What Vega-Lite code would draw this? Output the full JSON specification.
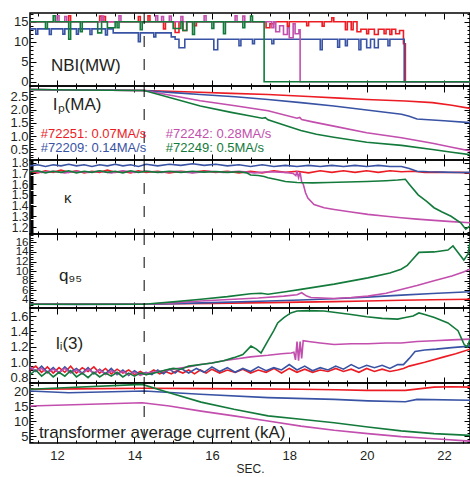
{
"$schema": "https://vega.github.io/schema/vega-lite/v6.json",
"padding": {"left": 1, "top": 11, "right": 1, "bottom": 0},
"spacing": 0,
"bounds": "flush",
"config": {
  "view": {"stroke": "#000", "strokeWidth": 1.5},
  "axis": {"domain": false, "grid": false, "tickColor": "#000", "tickWidth": 1, "labelFont": "Liberation Sans", "labelFontSize": 13, "labelColor": "#231f20", "titleFont": "Liberation Sans", "titleFontWeight": "normal", "titleFontSize": 13, "titleColor": "#231f20", "labelOverlap": false, "labelFlush": false, "title": null},
  "text": {"font": "Liberation Sans", "color": "#231f20"},
  "line": {"strokeWidth": 1.6}
},
"datasets": {
"nbi": [
{"s":"72251","t":11.3,"v":15},{"s":"72251","t":12.3,"v":16.5},{"s":"72251","t":12.35,"v":15},{"s":"72251","t":13.1,"v":16.4},{"s":"72251","t":13.15,"v":15},{"s":"72251","t":13.2,"v":16.3},{"s":"72251","t":13.25,"v":15},{"s":"72251","t":14.1,"v":16.3},{"s":"72251","t":14.15,"v":15},{"s":"72251","t":14.35,"v":16.5},{"s":"72251","t":14.4,"v":15},{"s":"72251","t":14.75,"v":13.2},{"s":"72251","t":14.8,"v":15},{"s":"72251","t":15.05,"v":12.3},{"s":"72251","t":15.15,"v":15},{"s":"72251","t":15.25,"v":12.8},{"s":"72251","t":15.35,"v":15},{"s":"72251","t":15.55,"v":14},{"s":"72251","t":15.6,"v":15},{"s":"72251","t":17.4,"v":13.5},{"s":"72251","t":17.5,"v":14.5},{"s":"72251","t":17.6,"v":15},{"s":"72251","t":17.95,"v":13.9},{"s":"72251","t":18.0,"v":15},{"s":"72251","t":18.45,"v":14},{"s":"72251","t":18.5,"v":15},{"s":"72251","t":18.85,"v":13.9},{"s":"72251","t":18.9,"v":15},{"s":"72251","t":19.1,"v":16},{"s":"72251","t":19.15,"v":15},{"s":"72251","t":19.45,"v":13},{"s":"72251","t":19.5,"v":15},{"s":"72251","t":19.6,"v":13},{"s":"72251","t":19.65,"v":15},{"s":"72251","t":19.75,"v":12.5},{"s":"72251","t":19.85,"v":13.1},{"s":"72251","t":20.0,"v":12},{"s":"72251","t":20.05,"v":13.1},{"s":"72251","t":20.2,"v":11.8},{"s":"72251","t":20.3,"v":13.1},{"s":"72251","t":20.45,"v":12},{"s":"72251","t":20.5,"v":13.1},{"s":"72251","t":20.6,"v":11.8},{"s":"72251","t":20.65,"v":13.1},{"s":"72251","t":20.75,"v":12},{"s":"72251","t":20.85,"v":12.8},{"s":"72251","t":20.95,"v":9.5},{"s":"72251","t":21.0,"v":0},{"s":"72251","t":22.67,"v":0},
{"s":"72209","t":11.3,"v":13.2},{"s":"72209","t":11.45,"v":11.9},{"s":"72209","t":11.5,"v":13.2},{"s":"72209","t":11.8,"v":11.8},{"s":"72209","t":11.85,"v":13.2},{"s":"72209","t":12.15,"v":11.9},{"s":"72209","t":12.2,"v":13.2},{"s":"72209","t":12.5,"v":11.9},{"s":"72209","t":12.55,"v":13.2},{"s":"72209","t":12.85,"v":11.8},{"s":"72209","t":12.9,"v":13.2},{"s":"72209","t":13.25,"v":11.7},{"s":"72209","t":13.3,"v":13.2},{"s":"72209","t":13.45,"v":12.2},{"s":"72209","t":14.1,"v":10},{"s":"72209","t":14.15,"v":12.2},{"s":"72209","t":14.5,"v":11.2},{"s":"72209","t":14.55,"v":12.2},{"s":"72209","t":14.95,"v":11.2},{"s":"72209","t":15.05,"v":10.6},{"s":"72209","t":15.15,"v":8.5},{"s":"72209","t":15.3,"v":10.6},{"s":"72209","t":16.05,"v":8},{"s":"72209","t":16.15,"v":10.6},{"s":"72209","t":16.7,"v":9},{"s":"72209","t":16.75,"v":10.6},{"s":"72209","t":17.05,"v":9.5},{"s":"72209","t":17.1,"v":10.6},{"s":"72209","t":17.55,"v":9.5},{"s":"72209","t":17.6,"v":10.6},{"s":"72209","t":18.8,"v":8},{"s":"72209","t":18.85,"v":10.6},{"s":"72209","t":19.25,"v":8.6},{"s":"72209","t":19.3,"v":10.6},{"s":"72209","t":19.45,"v":9},{"s":"72209","t":19.5,"v":10.6},{"s":"72209","t":19.8,"v":8},{"s":"72209","t":19.85,"v":10.6},{"s":"72209","t":20.0,"v":8.5},{"s":"72209","t":20.1,"v":10.6},{"s":"72209","t":20.2,"v":8.5},{"s":"72209","t":20.3,"v":10.6},{"s":"72209","t":20.55,"v":9},{"s":"72209","t":20.6,"v":10.6},{"s":"72209","t":20.97,"v":0},{"s":"72209","t":22.67,"v":0},
{"s":"72242","t":11.3,"v":15},{"s":"72242","t":12.0,"v":16.5},{"s":"72242","t":12.05,"v":15},{"s":"72242","t":12.2,"v":16.3},{"s":"72242","t":12.25,"v":15},{"s":"72242","t":13.15,"v":16.4},{"s":"72242","t":13.2,"v":15},{"s":"72242","t":13.6,"v":16.5},{"s":"72242","t":13.65,"v":15},{"s":"72242","t":14.55,"v":16.5},{"s":"72242","t":14.6,"v":15},{"s":"72242","t":14.7,"v":16.3},{"s":"72242","t":14.75,"v":15},{"s":"72242","t":14.9,"v":16.4},{"s":"72242","t":14.95,"v":15},{"s":"72242","t":15.2,"v":16.3},{"s":"72242","t":15.25,"v":15},{"s":"72242","t":15.8,"v":16.5},{"s":"72242","t":15.85,"v":15},{"s":"72242","t":16.6,"v":16.5},{"s":"72242","t":16.65,"v":15},{"s":"72242","t":16.8,"v":16.4},{"s":"72242","t":16.85,"v":15},{"s":"72242","t":17.55,"v":13.5},{"s":"72242","t":17.6,"v":15},{"s":"72242","t":17.65,"v":12.5},{"s":"72242","t":17.75,"v":14},{"s":"72242","t":17.85,"v":11.8},{"s":"72242","t":17.95,"v":13.5},{"s":"72242","t":18.0,"v":11},{"s":"72242","t":18.1,"v":14.5},{"s":"72242","t":18.15,"v":12},{"s":"72242","t":18.25,"v":13},{"s":"72242","t":18.28,"v":0},{"s":"72242","t":22.67,"v":0},
{"s":"72249","t":11.3,"v":15},{"s":"72249","t":11.7,"v":13.3},{"s":"72249","t":11.75,"v":15},{"s":"72249","t":11.9,"v":16.5},{"s":"72249","t":11.95,"v":15},{"s":"72249","t":12.3,"v":10.6},{"s":"72249","t":12.35,"v":15},{"s":"72249","t":12.6,"v":12.5},{"s":"72249","t":12.65,"v":15},{"s":"72249","t":13.05,"v":12.2},{"s":"72249","t":13.15,"v":15},{"s":"72249","t":13.3,"v":13.5},{"s":"72249","t":13.5,"v":15},{"s":"72249","t":13.55,"v":13.5},{"s":"72249","t":13.6,"v":15},{"s":"72249","t":14.15,"v":13},{"s":"72249","t":14.2,"v":15},{"s":"72249","t":15.0,"v":13.3},{"s":"72249","t":15.2,"v":15},{"s":"72249","t":15.25,"v":12.8},{"s":"72249","t":15.35,"v":15},{"s":"72249","t":15.5,"v":11.8},{"s":"72249","t":15.55,"v":15},{"s":"72249","t":16.0,"v":13.3},{"s":"72249","t":16.05,"v":15},{"s":"72249","t":16.3,"v":12},{"s":"72249","t":16.35,"v":15},{"s":"72249","t":16.8,"v":13.5},{"s":"72249","t":16.85,"v":15},{"s":"72249","t":17.0,"v":16.4},{"s":"72249","t":17.05,"v":15},{"s":"72249","t":17.35,"v":0},{"s":"72249","t":22.67,"v":0}
],
"ip": [
{"s":"72251","t":11.3,"v":2.77},{"s":"72251","t":12.5,"v":2.75},{"s":"72251","t":14.25,"v":2.73},{"s":"72251","t":15.5,"v":2.67},{"s":"72251","t":16.5,"v":2.62},{"s":"72251","t":17.45,"v":2.58},{"s":"72251","t":18.5,"v":2.5},{"s":"72251","t":19.3,"v":2.44},{"s":"72251","t":20.0,"v":2.39},{"s":"72251","t":21.0,"v":2.33},{"s":"72251","t":21.7,"v":2.27},{"s":"72251","t":22.2,"v":2.17},{"s":"72251","t":22.67,"v":2.05},
{"s":"72209","t":11.3,"v":2.77},{"s":"72209","t":12.5,"v":2.75},{"s":"72209","t":14.25,"v":2.73},{"s":"72209","t":15.0,"v":2.65},{"s":"72209","t":15.7,"v":2.58},{"s":"72209","t":16.6,"v":2.49},{"s":"72209","t":17.45,"v":2.39},{"s":"72209","t":18.3,"v":2.27},{"s":"72209","t":19.15,"v":2.14},{"s":"72209","t":20.0,"v":1.99},{"s":"72209","t":20.9,"v":1.83},{"s":"72209","t":21.1,"v":1.75},{"s":"72209","t":21.3,"v":1.65},{"s":"72209","t":22.0,"v":1.58},{"s":"72209","t":22.67,"v":1.51},
{"s":"72242","t":11.3,"v":2.77},{"s":"72242","t":12.5,"v":2.75},{"s":"72242","t":14.25,"v":2.73},{"s":"72242","t":15.0,"v":2.53},{"s":"72242","t":15.7,"v":2.34},{"s":"72242","t":16.6,"v":2.15},{"s":"72242","t":17.45,"v":1.96},{"s":"72242","t":18.2,"v":1.68},{"s":"72242","t":18.27,"v":1.71},{"s":"72242","t":18.32,"v":1.63},{"s":"72242","t":18.6,"v":1.54},{"s":"72242","t":19.15,"v":1.38},{"s":"72242","t":20.0,"v":1.13},{"s":"72242","t":20.9,"v":0.94},{"s":"72242","t":21.7,"v":0.73},{"s":"72242","t":22.2,"v":0.58},{"s":"72242","t":22.67,"v":0.44},
{"s":"72249","t":11.3,"v":2.77},{"s":"72249","t":12.5,"v":2.75},{"s":"72249","t":14.25,"v":2.73},{"s":"72249","t":15.0,"v":2.43},{"s":"72249","t":15.7,"v":2.14},{"s":"72249","t":16.5,"v":1.9},{"s":"72249","t":17.0,"v":1.76},{"s":"72249","t":17.3,"v":1.68},{"s":"72249","t":17.38,"v":1.7},{"s":"72249","t":17.45,"v":1.62},{"s":"72249","t":17.9,"v":1.4},{"s":"72249","t":18.3,"v":1.21},{"s":"72249","t":18.7,"v":1.07},{"s":"72249","t":19.15,"v":0.96},{"s":"72249","t":20.0,"v":0.77},{"s":"72249","t":20.9,"v":0.65},{"s":"72249","t":21.7,"v":0.49},{"s":"72249","t":22.2,"v":0.39},{"s":"72249","t":22.67,"v":0.3}
],
"kappa": [
{"s":"72251","t":11.3,"v":1.72},{"s":"72251","t":11.5,"v":1.705},{"s":"72251","t":11.7,"v":1.725},{"s":"72251","t":11.9,"v":1.71},{"s":"72251","t":12.1,"v":1.73},{"s":"72251","t":12.3,"v":1.71},{"s":"72251","t":12.5,"v":1.725},{"s":"72251","t":12.7,"v":1.705},{"s":"72251","t":12.9,"v":1.72},{"s":"72251","t":13.1,"v":1.71},{"s":"72251","t":13.3,"v":1.73},{"s":"72251","t":13.5,"v":1.71},{"s":"72251","t":13.7,"v":1.72},{"s":"72251","t":13.9,"v":1.705},{"s":"72251","t":14.1,"v":1.725},{"s":"72251","t":14.3,"v":1.71},{"s":"72251","t":14.6,"v":1.72},{"s":"72251","t":14.9,"v":1.705},{"s":"72251","t":15.2,"v":1.72},{"s":"72251","t":15.5,"v":1.71},{"s":"72251","t":15.8,"v":1.725},{"s":"72251","t":16.1,"v":1.71},{"s":"72251","t":16.4,"v":1.72},{"s":"72251","t":16.7,"v":1.705},{"s":"72251","t":17.0,"v":1.72},{"s":"72251","t":17.3,"v":1.705},{"s":"72251","t":17.6,"v":1.725},{"s":"72251","t":17.9,"v":1.71},{"s":"72251","t":18.2,"v":1.72},{"s":"72251","t":18.5,"v":1.705},{"s":"72251","t":18.8,"v":1.725},{"s":"72251","t":19.1,"v":1.71},{"s":"72251","t":19.4,"v":1.725},{"s":"72251","t":19.7,"v":1.71},{"s":"72251","t":20.0,"v":1.725},{"s":"72251","t":20.3,"v":1.71},{"s":"72251","t":20.6,"v":1.725},{"s":"72251","t":20.9,"v":1.715},{"s":"72251","t":21.2,"v":1.72},{"s":"72251","t":21.5,"v":1.71},{"s":"72251","t":21.8,"v":1.712},{"s":"72251","t":22.1,"v":1.708},{"s":"72251","t":22.4,"v":1.71},{"s":"72251","t":22.67,"v":1.705},
{"s":"72209","t":11.3,"v":1.77},{"s":"72209","t":11.5,"v":1.78},{"s":"72209","t":11.7,"v":1.765},{"s":"72209","t":11.9,"v":1.78},{"s":"72209","t":12.1,"v":1.77},{"s":"72209","t":12.3,"v":1.785},{"s":"72209","t":12.5,"v":1.77},{"s":"72209","t":12.7,"v":1.78},{"s":"72209","t":12.9,"v":1.765},{"s":"72209","t":13.1,"v":1.78},{"s":"72209","t":13.3,"v":1.77},{"s":"72209","t":13.5,"v":1.785},{"s":"72209","t":13.7,"v":1.77},{"s":"72209","t":13.9,"v":1.78},{"s":"72209","t":14.1,"v":1.765},{"s":"72209","t":14.3,"v":1.785},{"s":"72209","t":14.6,"v":1.77},{"s":"72209","t":14.9,"v":1.785},{"s":"72209","t":15.2,"v":1.775},{"s":"72209","t":15.5,"v":1.79},{"s":"72209","t":15.8,"v":1.775},{"s":"72209","t":16.1,"v":1.785},{"s":"72209","t":16.4,"v":1.77},{"s":"72209","t":16.7,"v":1.78},{"s":"72209","t":17.0,"v":1.765},{"s":"72209","t":17.3,"v":1.78},{"s":"72209","t":17.6,"v":1.765},{"s":"72209","t":17.9,"v":1.775},{"s":"72209","t":18.2,"v":1.765},{"s":"72209","t":18.5,"v":1.775},{"s":"72209","t":18.8,"v":1.765},{"s":"72209","t":19.1,"v":1.775},{"s":"72209","t":19.4,"v":1.765},{"s":"72209","t":19.7,"v":1.775},{"s":"72209","t":20.0,"v":1.765},{"s":"72209","t":20.3,"v":1.775},{"s":"72209","t":20.6,"v":1.765},{"s":"72209","t":20.9,"v":1.765},{"s":"72209","t":21.1,"v":1.745},{"s":"72209","t":21.3,"v":1.72},{"s":"72209","t":21.6,"v":1.715},{"s":"72209","t":22.0,"v":1.712},{"s":"72209","t":22.4,"v":1.708},{"s":"72209","t":22.67,"v":1.71},
{"s":"72242","t":11.3,"v":1.725},{"s":"72242","t":11.6,"v":1.71},{"s":"72242","t":11.9,"v":1.72},{"s":"72242","t":12.2,"v":1.705},{"s":"72242","t":12.5,"v":1.72},{"s":"72242","t":12.8,"v":1.71},{"s":"72242","t":13.1,"v":1.72},{"s":"72242","t":13.4,"v":1.705},{"s":"72242","t":13.7,"v":1.725},{"s":"72242","t":14.0,"v":1.71},{"s":"72242","t":14.3,"v":1.72},{"s":"72242","t":14.7,"v":1.71},{"s":"72242","t":15.1,"v":1.72},{"s":"72242","t":15.5,"v":1.705},{"s":"72242","t":15.9,"v":1.72},{"s":"72242","t":16.3,"v":1.71},{"s":"72242","t":16.7,"v":1.72},{"s":"72242","t":17.1,"v":1.705},{"s":"72242","t":17.5,"v":1.715},{"s":"72242","t":17.9,"v":1.71},{"s":"72242","t":18.1,"v":1.7},{"s":"72242","t":18.17,"v":1.68},{"s":"72242","t":18.2,"v":1.72},{"s":"72242","t":18.24,"v":1.66},{"s":"72242","t":18.28,"v":1.71},{"s":"72242","t":18.32,"v":1.62},{"s":"72242","t":18.36,"v":1.6},{"s":"72242","t":18.42,"v":1.52},{"s":"72242","t":18.48,"v":1.47},{"s":"72242","t":18.64,"v":1.41},{"s":"72242","t":18.9,"v":1.38},{"s":"72242","t":19.16,"v":1.364},{"s":"72242","t":19.6,"v":1.34},{"s":"72242","t":20.03,"v":1.318},{"s":"72242","t":20.5,"v":1.3},{"s":"72242","t":20.89,"v":1.286},{"s":"72242","t":21.3,"v":1.274},{"s":"72242","t":21.74,"v":1.262},{"s":"72242","t":22.2,"v":1.25},{"s":"72242","t":22.67,"v":1.24},
{"s":"72249","t":11.3,"v":1.715},{"s":"72249","t":11.5,"v":1.725},{"s":"72249","t":11.7,"v":1.705},{"s":"72249","t":11.9,"v":1.72},{"s":"72249","t":12.1,"v":1.71},{"s":"72249","t":12.3,"v":1.725},{"s":"72249","t":12.5,"v":1.705},{"s":"72249","t":12.7,"v":1.72},{"s":"72249","t":12.9,"v":1.71},{"s":"72249","t":13.1,"v":1.725},{"s":"72249","t":13.3,"v":1.71},{"s":"72249","t":13.5,"v":1.72},{"s":"72249","t":13.7,"v":1.705},{"s":"72249","t":13.9,"v":1.725},{"s":"72249","t":14.1,"v":1.71},{"s":"72249","t":14.3,"v":1.72},{"s":"72249","t":14.6,"v":1.71},{"s":"72249","t":14.9,"v":1.72},{"s":"72249","t":15.2,"v":1.71},{"s":"72249","t":15.5,"v":1.72},{"s":"72249","t":15.8,"v":1.712},{"s":"72249","t":16.1,"v":1.718},{"s":"72249","t":16.4,"v":1.71},{"s":"72249","t":16.7,"v":1.715},{"s":"72249","t":16.9,"v":1.705},{"s":"72249","t":17.0,"v":1.685},{"s":"72249","t":17.2,"v":1.68},{"s":"72249","t":17.35,"v":1.672},{"s":"72249","t":17.45,"v":1.66},{"s":"72249","t":17.7,"v":1.64},{"s":"72249","t":17.9,"v":1.625},{"s":"72249","t":18.2,"v":1.615},{"s":"72249","t":18.6,"v":1.612},{"s":"72249","t":19.0,"v":1.615},{"s":"72249","t":19.5,"v":1.62},{"s":"72249","t":20.0,"v":1.625},{"s":"72249","t":20.5,"v":1.632},{"s":"72249","t":20.8,"v":1.638},{"s":"72249","t":21.0,"v":1.645},{"s":"72249","t":21.1,"v":1.6},{"s":"72249","t":21.33,"v":1.5},{"s":"72249","t":21.55,"v":1.44},{"s":"72249","t":21.74,"v":1.38},{"s":"72249","t":21.95,"v":1.34},{"s":"72249","t":22.18,"v":1.3},{"s":"72249","t":22.43,"v":1.24},{"s":"72249","t":22.56,"v":1.18},{"s":"72249","t":22.67,"v":1.21}
],
"q95": [
{"s":"72251","t":11.3,"v":3.15},{"s":"72251","t":12.5,"v":3.12},{"s":"72251","t":14.25,"v":3.1},{"s":"72251","t":15.0,"v":3.2},{"s":"72251","t":16.0,"v":3.3},{"s":"72251","t":17.45,"v":3.45},{"s":"72251","t":18.3,"v":3.55},{"s":"72251","t":19.15,"v":3.65},{"s":"72251","t":20.0,"v":3.8},{"s":"72251","t":20.9,"v":3.95},{"s":"72251","t":21.7,"v":4.05},{"s":"72251","t":22.67,"v":4.15},
{"s":"72209","t":11.3,"v":3.1},{"s":"72209","t":12.5,"v":3.08},{"s":"72209","t":14.25,"v":3.1},{"s":"72209","t":15.0,"v":3.25},{"s":"72209","t":16.0,"v":3.45},{"s":"72209","t":17.45,"v":3.8},{"s":"72209","t":18.3,"v":4.0},{"s":"72209","t":19.15,"v":4.27},{"s":"72209","t":20.0,"v":4.6},{"s":"72209","t":20.9,"v":5.0},{"s":"72209","t":21.7,"v":5.35},{"s":"72209","t":22.67,"v":5.7},
{"s":"72242","t":11.3,"v":3.12},{"s":"72242","t":14.25,"v":3.1},{"s":"72242","t":15.0,"v":3.4},{"s":"72242","t":15.7,"v":3.8},{"s":"72242","t":16.57,"v":4.15},{"s":"72242","t":17.2,"v":4.4},{"s":"72242","t":17.86,"v":4.8},{"s":"72242","t":18.2,"v":5.1},{"s":"72242","t":18.32,"v":5.5},{"s":"72242","t":18.45,"v":4.8},{"s":"72242","t":18.56,"v":4.5},{"s":"72242","t":19.16,"v":4.3},{"s":"72242","t":19.6,"v":4.5},{"s":"72242","t":20.03,"v":4.8},{"s":"72242","t":20.5,"v":5.4},{"s":"72242","t":20.89,"v":6.2},{"s":"72242","t":21.3,"v":7.0},{"s":"72242","t":21.74,"v":8.0},{"s":"72242","t":22.2,"v":9.0},{"s":"72242","t":22.5,"v":9.8},{"s":"72242","t":22.67,"v":10.4},
{"s":"72249","t":11.3,"v":3.12},{"s":"72249","t":14.25,"v":3.1},{"s":"72249","t":15.0,"v":3.6},{"s":"72249","t":15.72,"v":4.15},{"s":"72249","t":16.4,"v":4.7},{"s":"72249","t":17.0,"v":5.3},{"s":"72249","t":17.27,"v":5.4},{"s":"72249","t":17.45,"v":5.2},{"s":"72249","t":17.9,"v":5.7},{"s":"72249","t":18.3,"v":6.2},{"s":"72249","t":19.16,"v":7.3},{"s":"72249","t":20.03,"v":8.6},{"s":"72249","t":20.6,"v":9.6},{"s":"72249","t":20.89,"v":10.4},{"s":"72249","t":21.05,"v":11.2},{"s":"72249","t":21.15,"v":12.1},{"s":"72249","t":21.35,"v":13.9},{"s":"72249","t":21.74,"v":14.0},{"s":"72249","t":22.1,"v":14.4},{"s":"72249","t":22.23,"v":15.25},{"s":"72249","t":22.36,"v":13.9},{"s":"72249","t":22.51,"v":12.3},{"s":"72249","t":22.62,"v":13.6},{"s":"72249","t":22.67,"v":16.0}
],
"li": [
{"s":"72251","t":11.3,"v":0.9},{"s":"72251","t":11.45,"v":0.95},{"s":"72251","t":11.6,"v":0.87},{"s":"72251","t":11.75,"v":0.94},{"s":"72251","t":11.9,"v":0.86},{"s":"72251","t":12.05,"v":0.93},{"s":"72251","t":12.2,"v":0.87},{"s":"72251","t":12.35,"v":0.95},{"s":"72251","t":12.5,"v":0.86},{"s":"72251","t":12.65,"v":0.93},{"s":"72251","t":12.8,"v":0.88},{"s":"72251","t":12.95,"v":0.94},{"s":"72251","t":13.1,"v":0.86},{"s":"72251","t":13.25,"v":0.92},{"s":"72251","t":13.4,"v":0.85},{"s":"72251","t":13.55,"v":0.91},{"s":"72251","t":13.7,"v":0.86},{"s":"72251","t":13.85,"v":0.9},{"s":"72251","t":14.0,"v":0.84},{"s":"72251","t":14.15,"v":0.88},{"s":"72251","t":14.3,"v":0.84},{"s":"72251","t":14.5,"v":0.9},{"s":"72251","t":14.65,"v":0.85},{"s":"72251","t":14.8,"v":0.88},{"s":"72251","t":14.95,"v":0.85},{"s":"72251","t":15.1,"v":0.89},{"s":"72251","t":15.25,"v":0.86},{"s":"72251","t":15.4,"v":0.9},{"s":"72251","t":15.55,"v":0.85},{"s":"72251","t":15.7,"v":0.9},{"s":"72251","t":15.85,"v":0.86},{"s":"72251","t":16.0,"v":0.91},{"s":"72251","t":16.2,"v":0.86},{"s":"72251","t":16.4,"v":0.9},{"s":"72251","t":16.6,"v":0.87},{"s":"72251","t":16.8,"v":0.91},{"s":"72251","t":17.0,"v":0.86},{"s":"72251","t":17.2,"v":0.9},{"s":"72251","t":17.4,"v":0.87},{"s":"72251","t":17.6,"v":0.92},{"s":"72251","t":17.8,"v":0.86},{"s":"72251","t":18.0,"v":0.92},{"s":"72251","t":18.2,"v":0.87},{"s":"72251","t":18.4,"v":0.91},{"s":"72251","t":18.6,"v":0.87},{"s":"72251","t":18.8,"v":0.9},{"s":"72251","t":19.0,"v":0.88},{"s":"72251","t":19.2,"v":0.92},{"s":"72251","t":19.4,"v":0.88},{"s":"72251","t":19.6,"v":0.91},{"s":"72251","t":19.8,"v":0.87},{"s":"72251","t":20.0,"v":0.92},{"s":"72251","t":20.2,"v":0.88},{"s":"72251","t":20.4,"v":0.91},{"s":"72251","t":20.6,"v":0.88},{"s":"72251","t":20.8,"v":0.9},{"s":"72251","t":20.95,"v":0.92},{"s":"72251","t":21.1,"v":0.95},{"s":"72251","t":21.5,"v":1.0},{"s":"72251","t":22.0,"v":1.07},{"s":"72251","t":22.3,"v":1.11},{"s":"72251","t":22.67,"v":1.17},
{"s":"72209","t":11.3,"v":0.93},{"s":"72209","t":11.45,"v":0.88},{"s":"72209","t":11.6,"v":0.95},{"s":"72209","t":11.75,"v":0.87},{"s":"72209","t":11.9,"v":0.93},{"s":"72209","t":12.05,"v":0.86},{"s":"72209","t":12.2,"v":0.94},{"s":"72209","t":12.35,"v":0.87},{"s":"72209","t":12.5,"v":0.92},{"s":"72209","t":12.65,"v":0.86},{"s":"72209","t":12.8,"v":0.93},{"s":"72209","t":12.95,"v":0.85},{"s":"72209","t":13.1,"v":0.91},{"s":"72209","t":13.25,"v":0.85},{"s":"72209","t":13.4,"v":0.92},{"s":"72209","t":13.55,"v":0.84},{"s":"72209","t":13.7,"v":0.9},{"s":"72209","t":13.85,"v":0.83},{"s":"72209","t":14.0,"v":0.89},{"s":"72209","t":14.15,"v":0.84},{"s":"72209","t":14.3,"v":0.87},{"s":"72209","t":14.45,"v":0.84},{"s":"72209","t":14.6,"v":0.9},{"s":"72209","t":14.75,"v":0.85},{"s":"72209","t":14.9,"v":0.91},{"s":"72209","t":15.05,"v":0.86},{"s":"72209","t":15.2,"v":0.92},{"s":"72209","t":15.4,"v":0.86},{"s":"72209","t":15.6,"v":0.92},{"s":"72209","t":15.8,"v":0.87},{"s":"72209","t":16.0,"v":0.94},{"s":"72209","t":16.2,"v":0.88},{"s":"72209","t":16.4,"v":0.93},{"s":"72209","t":16.6,"v":0.87},{"s":"72209","t":16.8,"v":0.92},{"s":"72209","t":17.0,"v":0.88},{"s":"72209","t":17.2,"v":0.94},{"s":"72209","t":17.4,"v":0.89},{"s":"72209","t":17.6,"v":0.93},{"s":"72209","t":17.8,"v":0.9},{"s":"72209","t":18.0,"v":0.97},{"s":"72209","t":18.2,"v":0.9},{"s":"72209","t":18.4,"v":0.95},{"s":"72209","t":18.6,"v":0.89},{"s":"72209","t":18.8,"v":0.93},{"s":"72209","t":19.0,"v":0.9},{"s":"72209","t":19.2,"v":0.95},{"s":"72209","t":19.4,"v":0.91},{"s":"72209","t":19.6,"v":0.97},{"s":"72209","t":19.8,"v":0.92},{"s":"72209","t":20.0,"v":0.96},{"s":"72209","t":20.2,"v":0.93},{"s":"72209","t":20.4,"v":0.96},{"s":"72209","t":20.6,"v":0.92},{"s":"72209","t":20.8,"v":0.97},{"s":"72209","t":20.95,"v":0.97},{"s":"72209","t":21.1,"v":1.05},{"s":"72209","t":21.25,"v":1.14},{"s":"72209","t":21.5,"v":1.16},{"s":"72209","t":21.8,"v":1.17},{"s":"72209","t":22.2,"v":1.19},{"s":"72209","t":22.67,"v":1.21},
{"s":"72242","t":11.3,"v":0.94},{"s":"72242","t":11.45,"v":0.89},{"s":"72242","t":11.6,"v":0.92},{"s":"72242","t":11.75,"v":0.86},{"s":"72242","t":11.9,"v":0.91},{"s":"72242","t":12.05,"v":0.87},{"s":"72242","t":12.2,"v":0.92},{"s":"72242","t":12.35,"v":0.86},{"s":"72242","t":12.5,"v":0.9},{"s":"72242","t":12.65,"v":0.85},{"s":"72242","t":12.8,"v":0.91},{"s":"72242","t":12.95,"v":0.86},{"s":"72242","t":13.1,"v":0.9},{"s":"72242","t":13.25,"v":0.84},{"s":"72242","t":13.4,"v":0.89},{"s":"72242","t":13.55,"v":0.85},{"s":"72242","t":13.7,"v":0.88},{"s":"72242","t":13.85,"v":0.84},{"s":"72242","t":14.0,"v":0.87},{"s":"72242","t":14.15,"v":0.83},{"s":"72242","t":14.3,"v":0.86},{"s":"72242","t":14.6,"v":0.88},{"s":"72242","t":14.9,"v":0.9},{"s":"72242","t":15.1,"v":0.92},{"s":"72242","t":15.4,"v":0.94},{"s":"72242","t":15.7,"v":0.97},{"s":"72242","t":16.0,"v":0.99},{"s":"72242","t":16.3,"v":1.02},{"s":"72242","t":16.57,"v":1.04},{"s":"72242","t":17.0,"v":1.07},{"s":"72242","t":17.45,"v":1.09},{"s":"72242","t":17.8,"v":1.11},{"s":"72242","t":18.05,"v":1.12},{"s":"72242","t":18.12,"v":1.13},{"s":"72242","t":18.16,"v":1.03},{"s":"72242","t":18.2,"v":1.27},{"s":"72242","t":18.24,"v":1.02},{"s":"72242","t":18.28,"v":1.27},{"s":"72242","t":18.32,"v":1.05},{"s":"72242","t":18.36,"v":1.28},{"s":"72242","t":18.5,"v":1.27},{"s":"72242","t":18.8,"v":1.25},{"s":"72242","t":19.16,"v":1.23},{"s":"72242","t":19.6,"v":1.24},{"s":"72242","t":20.03,"v":1.24},{"s":"72242","t":20.5,"v":1.25},{"s":"72242","t":20.89,"v":1.25},{"s":"72242","t":21.3,"v":1.27},{"s":"72242","t":21.74,"v":1.28},{"s":"72242","t":22.2,"v":1.29},{"s":"72242","t":22.67,"v":1.3},
{"s":"72249","t":11.3,"v":0.84},{"s":"72249","t":11.45,"v":0.9},{"s":"72249","t":11.6,"v":0.82},{"s":"72249","t":11.75,"v":0.88},{"s":"72249","t":11.9,"v":0.81},{"s":"72249","t":12.05,"v":0.87},{"s":"72249","t":12.2,"v":0.82},{"s":"72249","t":12.35,"v":0.89},{"s":"72249","t":12.5,"v":0.81},{"s":"72249","t":12.65,"v":0.86},{"s":"72249","t":12.8,"v":0.8},{"s":"72249","t":12.95,"v":0.87},{"s":"72249","t":13.1,"v":0.81},{"s":"72249","t":13.25,"v":0.86},{"s":"72249","t":13.4,"v":0.82},{"s":"72249","t":13.55,"v":0.87},{"s":"72249","t":13.7,"v":0.81},{"s":"72249","t":13.85,"v":0.86},{"s":"72249","t":14.0,"v":0.82},{"s":"72249","t":14.15,"v":0.86},{"s":"72249","t":14.3,"v":0.84},{"s":"72249","t":14.6,"v":0.87},{"s":"72249","t":14.8,"v":0.9},{"s":"72249","t":15.0,"v":0.92},{"s":"72249","t":15.2,"v":0.91},{"s":"72249","t":15.4,"v":0.95},{"s":"72249","t":15.72,"v":0.97},{"s":"72249","t":16.0,"v":0.99},{"s":"72249","t":16.3,"v":1.02},{"s":"72249","t":16.57,"v":1.06},{"s":"72249","t":16.8,"v":1.1},{"s":"72249","t":17.01,"v":1.21},{"s":"72249","t":17.15,"v":1.17},{"s":"72249","t":17.27,"v":1.12},{"s":"72249","t":17.45,"v":1.28},{"s":"72249","t":17.6,"v":1.41},{"s":"72249","t":17.7,"v":1.51},{"s":"72249","t":17.86,"v":1.58},{"s":"72249","t":18.04,"v":1.64},{"s":"72249","t":18.2,"v":1.665},{"s":"72249","t":18.5,"v":1.67},{"s":"72249","t":18.9,"v":1.665},{"s":"72249","t":19.3,"v":1.64},{"s":"72249","t":19.6,"v":1.62},{"s":"72249","t":20.0,"v":1.59},{"s":"72249","t":20.4,"v":1.57},{"s":"72249","t":20.8,"v":1.56},{"s":"72249","t":21.0,"v":1.58},{"s":"72249","t":21.2,"v":1.6},{"s":"72249","t":21.35,"v":1.64},{"s":"72249","t":21.5,"v":1.62},{"s":"72249","t":21.75,"v":1.58},{"s":"72249","t":22.1,"v":1.51},{"s":"72249","t":22.36,"v":1.41},{"s":"72249","t":22.52,"v":1.23},{"s":"72249","t":22.6,"v":1.2},{"s":"72249","t":22.67,"v":1.3}
],
"itf": [
{"s":"72251","t":11.3,"v":20.6},{"s":"72251","t":12.5,"v":20.7},{"s":"72251","t":14.25,"v":20.9},{"s":"72251","t":15.7,"v":20.8},{"s":"72251","t":17.0,"v":20.7},{"s":"72251","t":18.3,"v":20.6},{"s":"72251","t":19.2,"v":20.4},{"s":"72251","t":20.0,"v":20.2},{"s":"72251","t":21.0,"v":20.2},{"s":"72251","t":21.74,"v":21.3},{"s":"72251","t":22.2,"v":21.4},{"s":"72251","t":22.67,"v":21.3},
{"s":"72209","t":11.3,"v":20.0},{"s":"72209","t":12.3,"v":19.4},{"s":"72209","t":14.25,"v":20.0},{"s":"72209","t":15.7,"v":18.9},{"s":"72209","t":17.45,"v":17.8},{"s":"72209","t":19.16,"v":17.2},{"s":"72209","t":20.03,"v":16.7},{"s":"72209","t":21.0,"v":16.4},{"s":"72209","t":21.3,"v":17.2},{"s":"72209","t":22.67,"v":16.9},
{"s":"72242","t":11.3,"v":15.0},{"s":"72242","t":14.2,"v":16.1},{"s":"72242","t":14.9,"v":15.0},{"s":"72242","t":15.72,"v":13.3},{"s":"72242","t":16.57,"v":11.7},{"s":"72242","t":17.45,"v":10.0},{"s":"72242","t":18.3,"v":8.3},{"s":"72242","t":19.16,"v":6.9},{"s":"72242","t":20.03,"v":5.8},{"s":"72242","t":20.89,"v":4.8},{"s":"72242","t":21.74,"v":4.1},{"s":"72242","t":22.67,"v":3.3},
{"s":"72249","t":11.3,"v":20.6},{"s":"72249","t":14.2,"v":22.2},{"s":"72249","t":14.9,"v":19.4},{"s":"72249","t":15.72,"v":16.3},{"s":"72249","t":16.57,"v":13.9},{"s":"72249","t":17.45,"v":11.7},{"s":"72249","t":18.3,"v":10.6},{"s":"72249","t":19.16,"v":9.4},{"s":"72249","t":20.03,"v":8.0},{"s":"72249","t":20.89,"v":6.7},{"s":"72249","t":21.74,"v":5.8},{"s":"72249","t":22.67,"v":5.2}
]
},
"vconcat": [
{
 "width": 440, "height": 73,
 "layer": [
  {"data": {"name": "nbi"}, "mark": {"type": "line", "interpolate": "step-after"},
   "encoding": {
    "x": {"field": "t", "type": "quantitative", "scale": {"domain": [11.3, 22.67], "nice": false, "zero": false}, "axis": {"orient": "bottom", "values": [11.5,12,12.5,13,13.5,14,14.5,15,15.5,16,16.5,17,17.5,18,18.5,19,19.5,20,20.5,21,21.5,22,22.5], "labels": false, "tickSize": {"condition": {"test": "abs(datum.value/2 - round(datum.value/2)) < 0.001", "value": -6}, "value": -3}, "minExtent": 0, "maxExtent": 0}},
    "y": {"field": "v", "type": "quantitative", "scale": {"domain": [-1.08, 17.18], "nice": false, "zero": false}, "axis": {"orient": "left", "values": [-1,0,1,2,3,4,5,6,7,8,9,10,11,12,13,14,15,16,17], "format": "d", "labelExpr": "abs(datum.value/5 - round(datum.value/5)) < 0.001 ? datum.label : ''", "labelFontSize": {"condition": {"test": "abs(datum.value/5 - round(datum.value/5)) < 0.001", "value": 13}, "value": 0}, "tickSize": {"condition": {"test": "abs(datum.value/5 - round(datum.value/5)) < 0.001", "value": -6}, "value": -3}, "labelPadding": 8, "minExtent": 28, "maxExtent": 28}},
    "color": {"field": "s", "type": "nominal", "scale": {"domain": ["72251","72209","72242","72249"], "range": ["#ec1c24","#3953a4","#c24ead","#137a3b"]}, "legend": null}
   }},
  {"data": {"values": [{"t": 14.25}]}, "mark": {"type": "rule", "strokeDash": [11, 12], "color": "#000", "strokeWidth": 1}, "encoding": {"x": {"field": "t", "type": "quantitative", "axis": null}}},
  {"data": {"values": [{"label": "NBI(MW)", "t": 11.84, "v": 3.9}]}, "mark": {"type": "text", "align": "left", "baseline": "middle", "fontSize": 17},
   "encoding": {
    "x": {"field": "t", "type": "quantitative", "scale": {"domain": [11.3, 22.67], "nice": false, "zero": false}, "axis": {"orient": "top", "values": [11.5,12,12.5,13,13.5,14,14.5,15,15.5,16,16.5,17,17.5,18,18.5,19,19.5,20,20.5,21,21.5,22,22.5], "labels": false, "tickSize": {"condition": {"test": "abs(datum.value/2 - round(datum.value/2)) < 0.001", "value": -6}, "value": -3}, "minExtent": 0, "maxExtent": 0}},
    "y": {"field": "v", "type": "quantitative", "scale": {"domain": [-1.08, 17.18], "nice": false, "zero": false}, "axis": {"orient": "right", "values": [-1,0,1,2,3,4,5,6,7,8,9,10,11,12,13,14,15,16,17], "labels": false, "tickSize": {"condition": {"test": "abs(datum.value/5 - round(datum.value/5)) < 0.001", "value": -6}, "value": -3}, "minExtent": 0, "maxExtent": 0}},
    "text": {"field": "label"}
   }}
 ],
 "resolve": {"axis": {"x": "independent", "y": "independent"}}
},
{
 "width": 440, "height": 74,
 "layer": [
  {"data": {"name": "ip"}, "mark": {"type": "line"},
   "encoding": {
    "x": {"field": "t", "type": "quantitative", "scale": {"domain": [11.3, 22.67], "nice": false, "zero": false}, "axis": {"orient": "bottom", "values": [11.5,12,12.5,13,13.5,14,14.5,15,15.5,16,16.5,17,17.5,18,18.5,19,19.5,20,20.5,21,21.5,22,22.5], "labels": false, "tickSize": {"condition": {"test": "abs(datum.value/2 - round(datum.value/2)) < 0.001", "value": -6}, "value": -3}, "minExtent": 0, "maxExtent": 0}},
    "y": {"field": "v", "type": "quantitative", "scale": {"domain": [0.095, 2.9], "nice": false, "zero": false}, "axis": {"orient": "left", "values": [0.1,0.2,0.3,0.4,0.5,0.6,0.7,0.8,0.9,1.0,1.1,1.2,1.3,1.4,1.5,1.6,1.7,1.8,1.9,2.0,2.1,2.2,2.3,2.4,2.5,2.6,2.7,2.8], "format": ".1f", "labelExpr": "abs(datum.value*2 - round(datum.value*2)) < 0.001 ? datum.label : ''", "labelFontSize": {"condition": {"test": "abs(datum.value*2 - round(datum.value*2)) < 0.001", "value": 13}, "value": 0}, "tickSize": {"condition": {"test": "abs(datum.value*2 - round(datum.value*2)) < 0.001", "value": -6}, "value": -3}, "labelPadding": 8, "minExtent": 28, "maxExtent": 28}},
    "color": {"field": "s", "type": "nominal", "scale": {"domain": ["72251","72209","72242","72249"], "range": ["#ec1c24","#3953a4","#c24ead","#137a3b"]}, "legend": null}
   }},
  {"data": {"values": [{"t": 14.25}]}, "mark": {"type": "rule", "strokeDash": [11, 12], "color": "#000", "strokeWidth": 1}, "encoding": {"x": {"field": "t", "type": "quantitative", "axis": null}}},
  {"data": {"values": [{"label": "#72251: 0.07MA/s", "s": "72251", "t": 11.58, "v": 1.08}, {"label": "#72209: 0.14MA/s", "s": "72209", "t": 11.58, "v": 0.55}, {"label": "#72242: 0.28MA/s", "s": "72242", "t": 14.81, "v": 1.08}, {"label": "#72249: 0.5MA/s", "s": "72249", "t": 14.81, "v": 0.55}]}, "mark": {"type": "text", "align": "left", "baseline": "middle", "fontSize": 13},
   "encoding": {
    "x": {"field": "t", "type": "quantitative", "axis": null},
    "y": {"field": "v", "type": "quantitative", "axis": null},
    "text": {"field": "label"},
    "color": {"field": "s", "type": "nominal", "legend": null}
   }},
  {"data": {"values": [{"label": "Iₚ(MA)", "t": 11.89, "v": 2.18}]}, "mark": {"type": "text", "align": "left", "baseline": "middle", "fontSize": 17},
   "encoding": {
    "x": {"field": "t", "type": "quantitative", "scale": {"domain": [11.3, 22.67], "nice": false, "zero": false}, "axis": {"orient": "top", "values": [11.5,12,12.5,13,13.5,14,14.5,15,15.5,16,16.5,17,17.5,18,18.5,19,19.5,20,20.5,21,21.5,22,22.5], "labels": false, "tickSize": {"condition": {"test": "abs(datum.value/2 - round(datum.value/2)) < 0.001", "value": -6}, "value": -3}, "minExtent": 0, "maxExtent": 0}},
    "y": {"field": "v", "type": "quantitative", "scale": {"domain": [0.095, 2.9], "nice": false, "zero": false}, "axis": {"orient": "right", "values": [0.1,0.2,0.3,0.4,0.5,0.6,0.7,0.8,0.9,1.0,1.1,1.2,1.3,1.4,1.5,1.6,1.7,1.8,1.9,2.0,2.1,2.2,2.3,2.4,2.5,2.6,2.7,2.8], "labels": false, "tickSize": {"condition": {"test": "abs(datum.value*2 - round(datum.value*2)) < 0.001", "value": -6}, "value": -3}, "minExtent": 0, "maxExtent": 0}},
    "text": {"field": "label"}
   }}
 ],
 "resolve": {"axis": {"x": "independent", "y": "independent"}}
},
{
 "width": 440, "height": 74,
 "layer": [
  {"data": {"name": "kappa"}, "mark": {"type": "line"},
   "encoding": {
    "x": {"field": "t", "type": "quantitative", "scale": {"domain": [11.3, 22.67], "nice": false, "zero": false}, "axis": {"orient": "bottom", "values": [11.5,12,12.5,13,13.5,14,14.5,15,15.5,16,16.5,17,17.5,18,18.5,19,19.5,20,20.5,21,21.5,22,22.5], "labels": false, "tickSize": {"condition": {"test": "abs(datum.value/2 - round(datum.value/2)) < 0.001", "value": -6}, "value": -3}, "minExtent": 0, "maxExtent": 0}},
    "y": {"field": "v", "type": "quantitative", "scale": {"domain": [1.135, 1.825], "nice": false, "zero": false}, "axis": {"orient": "left", "values": [1.14,1.15,1.16,1.17,1.18,1.19,1.2,1.21,1.22,1.23,1.24,1.25,1.26,1.27,1.28,1.29,1.3,1.31,1.32,1.33,1.34,1.35,1.36,1.37,1.38,1.39,1.4,1.41,1.42,1.43,1.44,1.45,1.46,1.47,1.48,1.49,1.5,1.51,1.52,1.53,1.54,1.55,1.56,1.57,1.58,1.59,1.6,1.61,1.62,1.63,1.64,1.65,1.66,1.67,1.68,1.69,1.7,1.71,1.72,1.73,1.74,1.75,1.76,1.77,1.78,1.79,1.8,1.81,1.82], "format": ".1f", "labelExpr": "abs(datum.value*10 - round(datum.value*10)) < 0.001 ? datum.label : ''", "labelFontSize": {"condition": {"test": "abs(datum.value*10 - round(datum.value*10)) < 0.001", "value": 12}, "value": 0}, "tickSize": {"condition": {"test": "abs(datum.value*10 - round(datum.value*10)) < 0.001", "value": -6}, "value": -3}, "labelPadding": 8, "minExtent": 28, "maxExtent": 28}},
    "color": {"field": "s", "type": "nominal", "scale": {"domain": ["72251","72209","72242","72249"], "range": ["#ec1c24","#3953a4","#c24ead","#137a3b"]}, "legend": null}
   }},
  {"data": {"values": [{"t": 14.25}]}, "mark": {"type": "rule", "strokeDash": [11, 12], "color": "#000", "strokeWidth": 1}, "encoding": {"x": {"field": "t", "type": "quantitative", "axis": null}}},
  {"data": {"values": [{"label": "κ", "t": 12.18, "v": 1.473}]}, "mark": {"type": "text", "align": "left", "baseline": "middle", "fontSize": 15},
   "encoding": {
    "x": {"field": "t", "type": "quantitative", "scale": {"domain": [11.3, 22.67], "nice": false, "zero": false}, "axis": {"orient": "top", "values": [11.5,12,12.5,13,13.5,14,14.5,15,15.5,16,16.5,17,17.5,18,18.5,19,19.5,20,20.5,21,21.5,22,22.5], "labels": false, "tickSize": {"condition": {"test": "abs(datum.value/2 - round(datum.value/2)) < 0.001", "value": -6}, "value": -3}, "minExtent": 0, "maxExtent": 0}},
    "y": {"field": "v", "type": "quantitative", "scale": {"domain": [1.135, 1.825], "nice": false, "zero": false}, "axis": {"orient": "right", "values": [1.15,1.2,1.25,1.3,1.35,1.4,1.45,1.5,1.55,1.6,1.65,1.7,1.75,1.8], "labels": false, "tickSize": {"condition": {"test": "abs(datum.value*10 - round(datum.value*10)) < 0.001", "value": -6}, "value": -3}, "minExtent": 0, "maxExtent": 0}},
    "text": {"field": "label"}
   }}
 ],
 "resolve": {"axis": {"x": "independent", "y": "independent"}}
},
{
 "width": 440, "height": 74,
 "layer": [
  {"data": {"name": "q95"}, "mark": {"type": "line"},
   "encoding": {
    "x": {"field": "t", "type": "quantitative", "scale": {"domain": [11.3, 22.67], "nice": false, "zero": false}, "axis": {"orient": "bottom", "values": [11.5,12,12.5,13,13.5,14,14.5,15,15.5,16,16.5,17,17.5,18,18.5,19,19.5,20,20.5,21,21.5,22,22.5], "labels": false, "tickSize": {"condition": {"test": "abs(datum.value/2 - round(datum.value/2)) < 0.001", "value": -6}, "value": -3}, "minExtent": 0, "maxExtent": 0}},
    "y": {"field": "v", "type": "quantitative", "scale": {"domain": [2.33, 17.73], "nice": false, "zero": false}, "axis": {"orient": "left", "values": [2.5,3,3.5,4,4.5,5,5.5,6,6.5,7,7.5,8,8.5,9,9.5,10,10.5,11,11.5,12,12.5,13,13.5,14,14.5,15,15.5,16,16.5,17,17.5], "labelExpr": "abs(datum.value/2 - round(datum.value/2)) < 0.001 ? '' + round(datum.value) : ''", "labelFontSize": {"condition": {"test": "abs(datum.value/2 - round(datum.value/2)) < 0.001", "value": 11.5}, "value": 0}, "tickSize": {"condition": {"test": "abs(datum.value/2 - round(datum.value/2)) < 0.001", "value": -6}, "value": -3}, "labelPadding": 8, "minExtent": 28, "maxExtent": 28}},
    "color": {"field": "s", "type": "nominal", "scale": {"domain": ["72251","72209","72242","72249"], "range": ["#ec1c24","#3953a4","#c24ead","#137a3b"]}, "legend": null}
   }},
  {"data": {"values": [{"t": 14.25}]}, "mark": {"type": "rule", "strokeDash": [11, 12], "color": "#000", "strokeWidth": 1}, "encoding": {"x": {"field": "t", "type": "quantitative", "axis": null}}},
  {"data": {"values": [{"label": "q₉₅", "t": 12.05, "v": 9.0}]}, "mark": {"type": "text", "align": "left", "baseline": "middle", "fontSize": 17},
   "encoding": {
    "x": {"field": "t", "type": "quantitative", "scale": {"domain": [11.3, 22.67], "nice": false, "zero": false}, "axis": {"orient": "top", "values": [11.5,12,12.5,13,13.5,14,14.5,15,15.5,16,16.5,17,17.5,18,18.5,19,19.5,20,20.5,21,21.5,22,22.5], "labels": false, "tickSize": {"condition": {"test": "abs(datum.value/2 - round(datum.value/2)) < 0.001", "value": -6}, "value": -3}, "minExtent": 0, "maxExtent": 0}},
    "y": {"field": "v", "type": "quantitative", "scale": {"domain": [2.33, 17.73], "nice": false, "zero": false}, "axis": {"orient": "right", "values": [2.5,3,3.5,4,4.5,5,5.5,6,6.5,7,7.5,8,8.5,9,9.5,10,10.5,11,11.5,12,12.5,13,13.5,14,14.5,15,15.5,16,16.5,17,17.5], "labels": false, "tickSize": {"condition": {"test": "abs(datum.value/2 - round(datum.value/2)) < 0.001", "value": -6}, "value": -3}, "minExtent": 0, "maxExtent": 0}},
    "text": {"field": "label"}
   }}
 ],
 "resolve": {"axis": {"x": "independent", "y": "independent"}}
},
{
 "width": 440, "height": 75,
 "layer": [
  {"data": {"name": "li"}, "mark": {"type": "line"},
   "encoding": {
    "x": {"field": "t", "type": "quantitative", "scale": {"domain": [11.3, 22.67], "nice": false, "zero": false}, "axis": {"orient": "bottom", "values": [11.5,12,12.5,13,13.5,14,14.5,15,15.5,16,16.5,17,17.5,18,18.5,19,19.5,20,20.5,21,21.5,22,22.5], "labels": false, "tickSize": {"condition": {"test": "abs(datum.value/2 - round(datum.value/2)) < 0.001", "value": -6}, "value": -3}, "minExtent": 0, "maxExtent": 0}},
    "y": {"field": "v", "type": "quantitative", "scale": {"domain": [0.731, 1.704], "nice": false, "zero": false}, "axis": {"orient": "left", "values": [0.75,0.8,0.85,0.9,0.95,1.0,1.05,1.1,1.15,1.2,1.25,1.3,1.35,1.4,1.45,1.5,1.55,1.6,1.65,1.7], "format": ".1f", "labelExpr": "abs(datum.value*5 - round(datum.value*5)) < 0.001 ? datum.label : ''", "labelFontSize": {"condition": {"test": "abs(datum.value*5 - round(datum.value*5)) < 0.001", "value": 13}, "value": 0}, "tickSize": {"condition": {"test": "abs(datum.value*5 - round(datum.value*5)) < 0.001", "value": -6}, "value": -3}, "labelPadding": 8, "minExtent": 28, "maxExtent": 28}},
    "color": {"field": "s", "type": "nominal", "scale": {"domain": ["72251","72209","72242","72249"], "range": ["#ec1c24","#3953a4","#c24ead","#137a3b"]}, "legend": null}
   }},
  {"data": {"values": [{"t": 14.25}]}, "mark": {"type": "rule", "strokeDash": [11, 12], "color": "#000", "strokeWidth": 1}, "encoding": {"x": {"field": "t", "type": "quantitative", "axis": null}}},
  {"data": {"values": [{"label": "lᵢ(3)", "t": 11.97, "v": 1.24}]}, "mark": {"type": "text", "align": "left", "baseline": "middle", "fontSize": 17},
   "encoding": {
    "x": {"field": "t", "type": "quantitative", "scale": {"domain": [11.3, 22.67], "nice": false, "zero": false}, "axis": {"orient": "top", "values": [11.5,12,12.5,13,13.5,14,14.5,15,15.5,16,16.5,17,17.5,18,18.5,19,19.5,20,20.5,21,21.5,22,22.5], "labels": false, "tickSize": {"condition": {"test": "abs(datum.value/2 - round(datum.value/2)) < 0.001", "value": -6}, "value": -3}, "minExtent": 0, "maxExtent": 0}},
    "y": {"field": "v", "type": "quantitative", "scale": {"domain": [0.731, 1.704], "nice": false, "zero": false}, "axis": {"orient": "right", "values": [0.75,0.8,0.85,0.9,0.95,1.0,1.05,1.1,1.15,1.2,1.25,1.3,1.35,1.4,1.45,1.5,1.55,1.6,1.65,1.7], "labels": false, "tickSize": {"condition": {"test": "abs(datum.value*5 - round(datum.value*5)) < 0.001", "value": -6}, "value": -3}, "minExtent": 0, "maxExtent": 0}},
    "text": {"field": "label"}
   }}
 ],
 "resolve": {"axis": {"x": "independent", "y": "independent"}}
},
{
 "width": 440, "height": 60,
 "layer": [
  {"data": {"name": "itf"}, "mark": {"type": "line"},
   "encoding": {
    "x": {"field": "t", "type": "quantitative", "scale": {"domain": [11.3, 22.67], "nice": false, "zero": false}, "axis": {"orient": "bottom", "values": [11.5,12,12.5,13,13.5,14,14.5,15,15.5,16,16.5,17,17.5,18,18.5,19,19.5,20,20.5,21,21.5,22,22.5], "labelExpr": "abs(datum.value/2 - round(datum.value/2)) < 0.001 ? '' + round(datum.value) : ''", "labelFontSize": {"condition": {"test": "abs(datum.value/2 - round(datum.value/2)) < 0.001", "value": 13}, "value": 0}, "tickSize": {"condition": {"test": "abs(datum.value/2 - round(datum.value/2)) < 0.001", "value": -6}, "value": -3}, "labelPadding": 12, "title": "SEC.", "titleFontSize": 12, "titlePadding": 1}},
    "y": {"field": "v", "type": "quantitative", "scale": {"domain": [2.67, 22.67], "nice": false, "zero": false}, "axis": {"orient": "left", "values": [3,4,5,6,7,8,9,10,11,12,13,14,15,16,17,18,19,20,21,22], "format": "d", "labelExpr": "abs(datum.value/5 - round(datum.value/5)) < 0.001 ? datum.label : ''", "labelFontSize": {"condition": {"test": "abs(datum.value/5 - round(datum.value/5)) < 0.001", "value": 13}, "value": 0}, "tickSize": {"condition": {"test": "abs(datum.value/5 - round(datum.value/5)) < 0.001", "value": -6}, "value": -3}, "labelPadding": 8, "minExtent": 28, "maxExtent": 28}},
    "color": {"field": "s", "type": "nominal", "scale": {"domain": ["72251","72209","72242","72249"], "range": ["#ec1c24","#3953a4","#c24ead","#137a3b"]}, "legend": null}
   }},
  {"data": {"values": [{"t": 14.25}]}, "mark": {"type": "rule", "strokeDash": [11, 12], "color": "#000", "strokeWidth": 1}, "encoding": {"x": {"field": "t", "type": "quantitative", "axis": null}}},
  {"data": {"values": [{"label": "transformer average current (kA)", "t": 11.53, "v": 6.0}]}, "mark": {"type": "text", "align": "left", "baseline": "middle", "fontSize": 17},
   "encoding": {
    "x": {"field": "t", "type": "quantitative", "scale": {"domain": [11.3, 22.67], "nice": false, "zero": false}, "axis": {"orient": "top", "values": [11.5,12,12.5,13,13.5,14,14.5,15,15.5,16,16.5,17,17.5,18,18.5,19,19.5,20,20.5,21,21.5,22,22.5], "labels": false, "tickSize": {"condition": {"test": "abs(datum.value/2 - round(datum.value/2)) < 0.001", "value": -6}, "value": -3}, "minExtent": 0, "maxExtent": 0}},
    "y": {"field": "v", "type": "quantitative", "scale": {"domain": [2.67, 22.67], "nice": false, "zero": false}, "axis": {"orient": "right", "values": [3,4,5,6,7,8,9,10,11,12,13,14,15,16,17,18,19,20,21,22], "labels": false, "tickSize": {"condition": {"test": "abs(datum.value/5 - round(datum.value/5)) < 0.001", "value": -6}, "value": -3}, "minExtent": 0, "maxExtent": 0}},
    "text": {"field": "label"}
   }}
 ],
 "resolve": {"axis": {"x": "independent", "y": "independent"}}
}
]
}
